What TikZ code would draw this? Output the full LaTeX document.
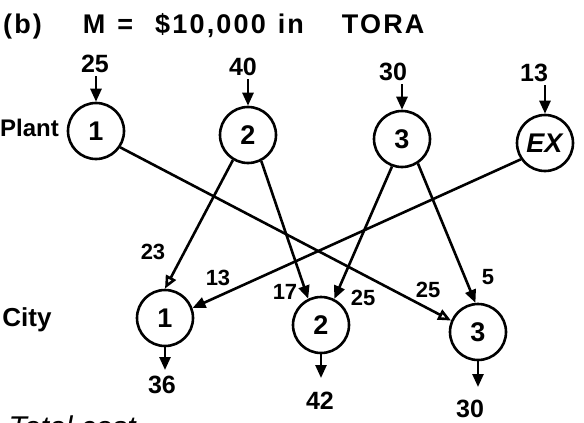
\documentclass[tikz,border=0pt]{standalone}
\usepackage{fontspec}
\setmainfont{Liberation Sans}
\usetikzlibrary{arrows.meta}
\begin{document}
\begin{tikzpicture}[x=1pt,y=-1pt,
  every node/.style={font=\fontsize{25}{28}\selectfont\bfseries},
  circ/.style={draw,circle,line width=2.6pt,minimum size=56pt,inner sep=0pt,font=\fontsize{27}{30}\selectfont\bfseries},
  flow/.style={line width=2.6pt,-{Triangle[length=13pt,width=11pt]}},
  openflow/.style={line width=2.6pt,-{Triangle[open,length=13pt,width=11pt]}},
  elbl/.style={inner sep=0pt,font=\fontsize{22}{25}\selectfont\bfseries}]
\useasboundingbox (0,0) rectangle (584,423);
\clip (0,0) rectangle (584,423);
% title
\node[anchor=west,inner sep=0pt,font=\fontsize{27}{30}\selectfont\bfseries\addfontfeatures{LetterSpace=8}] (title) at (3,26)
  {(b)\hspace{41pt}M\hspace{12pt}=\hspace{22pt}\$10,000\hspace{12pt}in\hspace{38pt}TORA};
% row labels
\node[anchor=west,inner sep=0pt,font=\fontsize{24}{28}\selectfont\bfseries] (plant) at (0,128) {Plant};
\node[font=\fontsize{26}{28}\selectfont\bfseries] (city) at (27,320) {City};
% plants
\node[circ] (P1) at (96,131) {1};
\node[circ] (P2) at (248,135) {2};
\node[circ] (P3) at (402,139) {3};
\node[circ] (EX) at (545,143) {\textit{EX}};
% cities
\node[circ] (C1) at (165,318) {1};
\node[circ] (C2) at (321,325) {2};
\node[circ] (C3) at (478,332) {3};
% supplies
\node (s1) at (95,64) {25};
\node (s2) at (243,67) {40};
\node (s3) at (393,72) {30};
\node (s4) at (534,73) {13};
\draw[flow] (P1.north |- s1.south) -- (P1.north);
\draw[flow] (P2.north |- s2.south) -- (P2.north);
\draw[flow] (P3.north |- s3.south) -- (P3.north);
\draw[flow] (EX.north |- s4.south) -- (EX.north);
% demands
\coordinate (e1) at (165,370);
\coordinate (e2) at (321,378);
\coordinate (e3) at (478,387);
\node (d1) at (162,385) {36};
\node (d2) at (320,401) {42};
\node (d3) at (470,409) {30};
\draw[flow] (C1.south) -- (e1);
\draw[flow] (C2.south) -- (e2);
\draw[flow] (C3.south) -- (e3);
% shipments
\draw[openflow] (P2.239) -- (C1.90);
\draw[flow] (P2.297) -- (C2.116);
\draw[flow] (P3.250) -- (C2.63);
\draw[flow] (P3.303) -- (C3.95);
\draw[openflow] (P1.326) -- (C3.157);
\draw[flow] (EX.214) -- (C1.20);
% shipment labels
\node[elbl] (l1) at (153,252) {23};
\node[elbl] (l2) at (218,278) {13};
\node[elbl] (l3) at (285,292) {17};
\node[elbl] (l4) at (363,298) {25};
\node[elbl] (l5) at (428,290) {25};
\node[elbl] (l6) at (488,277) {5};
% cut-off bottom text
\node[anchor=base west,font=\fontsize{30}{34}\selectfont\itshape] (total) at (5,437) {Total cost};
\end{tikzpicture}
\end{document}
